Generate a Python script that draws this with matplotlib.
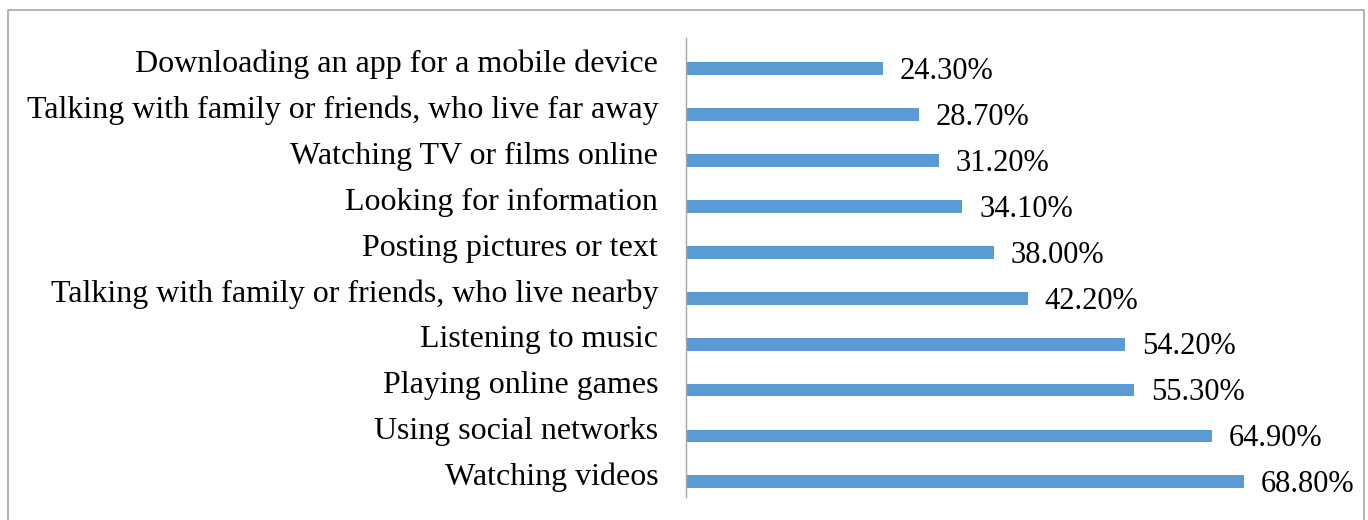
import matplotlib
matplotlib.use("Agg")
import matplotlib.pyplot as plt
from matplotlib.patches import Rectangle

categories = [
    "Downloading an app for a mobile device",
    "Talking with family or friends, who live far away",
    "Watching TV or films online",
    "Looking for information",
    "Posting pictures or text",
    "Talking with family or friends, who live nearby",
    "Listening to music",
    "Playing online games",
    "Using social networks",
    "Watching videos",
]
values = [24.3, 28.7, 31.2, 34.1, 38.0, 42.2, 54.2, 55.3, 64.9, 68.8]

plt.rcParams["font.family"] = ["Liberation Serif", "DejaVu Serif"]

fig = plt.figure(figsize=(13.68, 5.2), dpi=100)
fig.patch.set_facecolor("white")

# outer chart-area frame
fig.add_artist(Rectangle((8 / 1368, -0.05), (1364 - 8) / 1368, (520 - 10) / 520 + 0.05,
                         transform=fig.transFigure, fill=False,
                         edgecolor="#a6a6a6", linewidth=1.2))

ax = fig.add_axes([686 / 1368, 1 - 497 / 520, (1359 - 686) / 1368, (497 - 38) / 520])

ypos = list(range(len(categories)))
bar_offset = 0.17
ax.barh([y + bar_offset for y in ypos], values, height=0.28, color="#5b9bd5")

for y, v in zip(ypos, values):
    ax.annotate(f"{v:.2f}%", xy=(v, y + bar_offset), xytext=(12, -2),
                textcoords="offset points", ha="left", va="center",
                fontsize=22, color="#000000")

ax.set_xlim(0, 83)
ax.set_ylim(len(categories) - 0.5, -0.5)
ax.set_yticks(ypos)
ax.set_yticklabels(categories, fontsize=23)
ax.tick_params(axis="y", length=0, pad=20)
ax.set_xticks([])

for side in ["top", "right", "bottom"]:
    ax.spines[side].set_visible(False)
ax.spines["left"].set_color("#a6a6a6")
ax.spines["left"].set_linewidth(1.0)

fig.savefig("out.png", dpi=100, facecolor="white")
